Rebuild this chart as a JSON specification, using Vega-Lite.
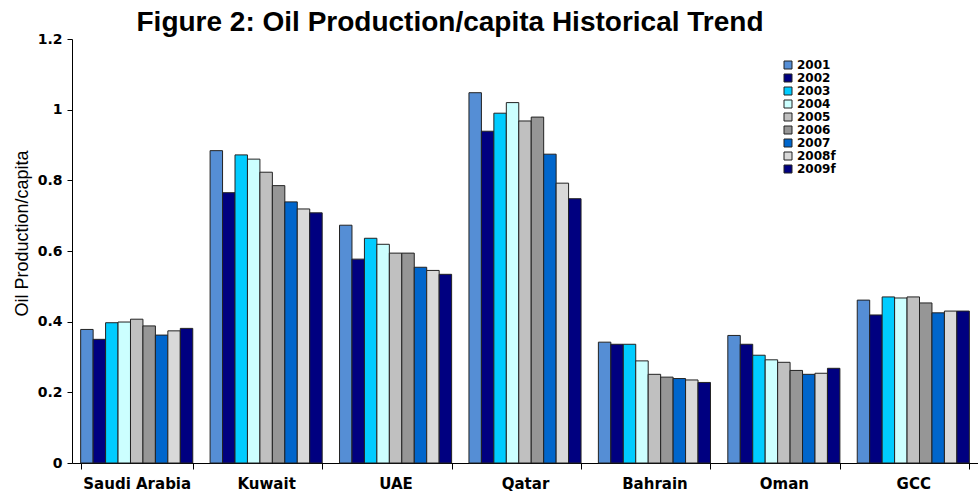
{
  "$schema": "https://vega.github.io/schema/vega-lite/v6.json",
  "autosize": "none",
  "width": 906,
  "height": 424,
  "padding": {"left": 72, "top": 39, "right": 0, "bottom": 29},
  "background": "white",
  "title": {
    "text": "Figure 2: Oil Production/capita Historical Trend",
    "font": "Liberation Sans",
    "fontSize": 28,
    "fontWeight": "bold",
    "color": "black",
    "anchor": "middle",
    "dx": -75,
    "offset": 0,
    "dy": 5
  },
  "data": {
    "values": [
      {"country": "Saudi Arabia", "year": "2001", "value": 0.378},
      {"country": "Saudi Arabia", "year": "2002", "value": 0.350},
      {"country": "Saudi Arabia", "year": "2003", "value": 0.397},
      {"country": "Saudi Arabia", "year": "2004", "value": 0.399},
      {"country": "Saudi Arabia", "year": "2005", "value": 0.407},
      {"country": "Saudi Arabia", "year": "2006", "value": 0.388},
      {"country": "Saudi Arabia", "year": "2007", "value": 0.362},
      {"country": "Saudi Arabia", "year": "2008f", "value": 0.374},
      {"country": "Saudi Arabia", "year": "2009f", "value": 0.381},
      {"country": "Kuwait", "year": "2001", "value": 0.884},
      {"country": "Kuwait", "year": "2002", "value": 0.765},
      {"country": "Kuwait", "year": "2003", "value": 0.872},
      {"country": "Kuwait", "year": "2004", "value": 0.860},
      {"country": "Kuwait", "year": "2005", "value": 0.823},
      {"country": "Kuwait", "year": "2006", "value": 0.785},
      {"country": "Kuwait", "year": "2007", "value": 0.739},
      {"country": "Kuwait", "year": "2008f", "value": 0.719},
      {"country": "Kuwait", "year": "2009f", "value": 0.708},
      {"country": "UAE", "year": "2001", "value": 0.673},
      {"country": "UAE", "year": "2002", "value": 0.577},
      {"country": "UAE", "year": "2003", "value": 0.636},
      {"country": "UAE", "year": "2004", "value": 0.619},
      {"country": "UAE", "year": "2005", "value": 0.594},
      {"country": "UAE", "year": "2006", "value": 0.594},
      {"country": "UAE", "year": "2007", "value": 0.554},
      {"country": "UAE", "year": "2008f", "value": 0.545},
      {"country": "UAE", "year": "2009f", "value": 0.534},
      {"country": "Qatar", "year": "2001", "value": 1.048},
      {"country": "Qatar", "year": "2002", "value": 0.939},
      {"country": "Qatar", "year": "2003", "value": 0.990},
      {"country": "Qatar", "year": "2004", "value": 1.020},
      {"country": "Qatar", "year": "2005", "value": 0.968},
      {"country": "Qatar", "year": "2006", "value": 0.979},
      {"country": "Qatar", "year": "2007", "value": 0.874},
      {"country": "Qatar", "year": "2008f", "value": 0.792},
      {"country": "Qatar", "year": "2009f", "value": 0.748},
      {"country": "Bahrain", "year": "2001", "value": 0.342},
      {"country": "Bahrain", "year": "2002", "value": 0.336},
      {"country": "Bahrain", "year": "2003", "value": 0.336},
      {"country": "Bahrain", "year": "2004", "value": 0.289},
      {"country": "Bahrain", "year": "2005", "value": 0.251},
      {"country": "Bahrain", "year": "2006", "value": 0.243},
      {"country": "Bahrain", "year": "2007", "value": 0.239},
      {"country": "Bahrain", "year": "2008f", "value": 0.235},
      {"country": "Bahrain", "year": "2009f", "value": 0.228},
      {"country": "Oman", "year": "2001", "value": 0.361},
      {"country": "Oman", "year": "2002", "value": 0.336},
      {"country": "Oman", "year": "2003", "value": 0.305},
      {"country": "Oman", "year": "2004", "value": 0.292},
      {"country": "Oman", "year": "2005", "value": 0.285},
      {"country": "Oman", "year": "2006", "value": 0.262},
      {"country": "Oman", "year": "2007", "value": 0.251},
      {"country": "Oman", "year": "2008f", "value": 0.254},
      {"country": "Oman", "year": "2009f", "value": 0.268},
      {"country": "GCC", "year": "2001", "value": 0.461},
      {"country": "GCC", "year": "2002", "value": 0.419},
      {"country": "GCC", "year": "2003", "value": 0.470},
      {"country": "GCC", "year": "2004", "value": 0.467},
      {"country": "GCC", "year": "2005", "value": 0.470},
      {"country": "GCC", "year": "2006", "value": 0.453},
      {"country": "GCC", "year": "2007", "value": 0.425},
      {"country": "GCC", "year": "2008f", "value": 0.430},
      {"country": "GCC", "year": "2009f", "value": 0.430}
    ]
  },
  "mark": {"type": "bar", "stroke": "#222222", "strokeWidth": 1},
  "encoding": {
    "x": {
      "field": "country",
      "type": "nominal",
      "sort": ["Saudi Arabia", "Kuwait", "UAE", "Qatar", "Bahrain", "Oman", "GCC"],
      "scale": {"paddingInner": 0.134, "paddingOuter": 0.067},
      "axis": {
        "title": null,
        "labelAngle": 0,
        "labelFont": "DejaVu Sans",
        "labelFontWeight": "bold",
        "labelFontSize": 15,
        "labelColor": "black",
        "labelPadding": 7,
        "tickBand": "extent",
        "tickSize": 6,
        "tickColor": "black",
        "domainColor": "black",
        "grid": false
      }
    },
    "xOffset": {
      "field": "year",
      "type": "nominal",
      "sort": ["2001", "2002", "2003", "2004", "2005", "2006", "2007", "2008f", "2009f"],
      "scale": {"paddingInner": 0, "paddingOuter": 0}
    },
    "y": {
      "field": "value",
      "type": "quantitative",
      "scale": {"domain": [0, 1.2], "nice": false},
      "axis": {
        "title": "Oil Production/capita",
        "titleFont": "Liberation Sans",
        "titleFontSize": 18,
        "titleFontWeight": "normal",
        "titleColor": "black",
        "titleX": -50,
        "titleY": 194,
        "titleBaseline": "middle",
        "values": [0, 0.2, 0.4, 0.6, 0.8, 1, 1.2],
        "format": "~g",
        "labelFont": "DejaVu Sans",
        "labelFontWeight": "bold",
        "labelFontSize": 14,
        "labelColor": "black",
        "labelPadding": 5,
        "tickSize": 5,
        "tickColor": "black",
        "domainColor": "black",
        "grid": false
      }
    },
    "color": {
      "field": "year",
      "type": "nominal",
      "scale": {
        "domain": ["2001", "2002", "2003", "2004", "2005", "2006", "2007", "2008f", "2009f"],
        "range": ["#558ED5", "#000080", "#00CCFF", "#CCFFFF", "#C0C0C0", "#969696", "#0066CC", "#D9D9D9", "#000080"]
      },
      "legend": {
        "title": null,
        "orient": "none",
        "legendX": 710,
        "legendY": 20,
        "symbolType": "square",
        "symbolSize": 64,
        "symbolStrokeColor": "#222222",
        "symbolStrokeWidth": 1,
        "labelFont": "DejaVu Sans",
        "labelFontWeight": "bold",
        "labelFontSize": 12,
        "labelColor": "black",
        "labelOffset": 3,
        "rowPadding": 1
      }
    }
  },
  "config": {"view": {"stroke": null}}
}
